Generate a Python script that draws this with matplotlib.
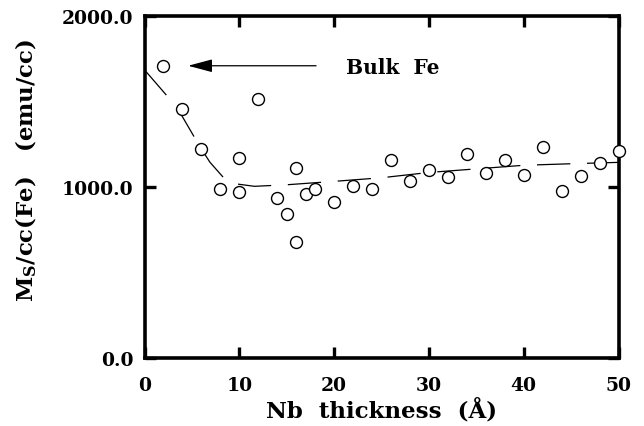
import matplotlib
matplotlib.use("Agg")
import matplotlib.pyplot as plt

# ---- data ----
nb_thickness = [2, 4, 6, 8, 10, 10, 12, 14, 15, 16, 16, 17, 18, 20, 22, 24, 26,
                28, 30, 32, 34, 36, 38, 40, 42, 44, 46, 48, 50]
ms_values = [1705, 1455, 1225, 990, 970, 1170, 1515, 935, 840, 1110, 680, 960,
             990, 915, 1005, 990, 1160, 1035, 1100, 1060, 1195, 1080, 1155,
             1070, 1235, 975, 1065, 1140, 1210]

# dashed guide curve (nodes)
fit_x = [0, 2.5, 3.8, 5.8, 6.9, 8.3, 9.7, 11.6, 15, 20, 25, 30, 35, 40, 45, 50]
fit_y = [1685, 1525, 1430, 1240, 1145, 1057, 1018, 1004, 1013, 1033, 1054,
         1085, 1106, 1127, 1136, 1144]

x_ticks = [0, 10, 20, 30, 40, 50]
y_ticks = [0, 1000, 2000]
y_tick_labels = ["0.0", "1000.0", "2000.0"]

annotation_text = "Bulk  Fe"
annotation_tip = (4.6, 1709)
annotation_text_pos = (26.2, 1700)

plt.rcParams["font.family"] = ["DejaVu Serif"]
plt.rcParams["font.weight"] = "bold"
plt.rcParams["mathtext.fontset"] = "custom"
plt.rcParams["mathtext.rm"] = "DejaVu Serif:bold"
plt.rcParams["mathtext.it"] = "DejaVu Serif:bold"
plt.rcParams["mathtext.bf"] = "DejaVu Serif:bold"
plt.rcParams["lines.scale_dashes"] = False

fig = plt.figure(figsize=(6.44, 4.27), dpi=100)
ax = fig.add_axes([144.5 / 644, 68 / 427, 474 / 644, 342 / 427])

ax.plot(fit_x, fit_y, color="black", lw=0.9, dashes=(24, 12), zorder=2)
ax.plot(nb_thickness, ms_values, linestyle="none", marker="o", ms=8.6,
        mfc="white", mec="black", mew=1.0, clip_on=False, zorder=3)

ax.annotate("", xy=annotation_tip, xytext=(18.1, 1709),
            arrowprops=dict(arrowstyle="-|>,head_length=1.5,head_width=0.4",
                            color="black", lw=0.9, shrinkA=0, shrinkB=0))
ax.text(annotation_text_pos[0], annotation_text_pos[1], annotation_text,
        fontsize=14.5, fontweight="bold", ha="center", va="center")

ax.set_xlim(0, 50)
ax.set_ylim(0, 2000)
ax.set_xticks(x_ticks)
ax.set_xticklabels([str(v) for v in x_ticks])
ax.set_yticks(y_ticks)
ax.set_yticklabels(y_tick_labels)

for s in ax.spines.values():
    s.set_linewidth(2.6)

ax.tick_params(axis="both", which="major", direction="in", length=8, width=2.4,
               top=True, right=True)
ax.tick_params(axis="x", labelsize=13.5, pad=13)
ax.tick_params(axis="y", labelsize=13.5, pad=8)
for lab in ax.get_xticklabels() + ax.get_yticklabels():
    lab.set_fontweight("bold")

ax.set_xlabel("Nb  thickness  (Å)", fontsize=16.5, fontweight="bold",
              va="center")
ax.xaxis.set_label_coords(0.5, -0.149)
ax.set_ylabel(r"M$_\mathrm{S}$/cc(Fe)   (emu/cc)", fontsize=16.5,
              fontweight="bold", va="center", ha="center")
ax.yaxis.set_label_coords(-0.25, 0.553)

fig.savefig("out.png", dpi=100)
